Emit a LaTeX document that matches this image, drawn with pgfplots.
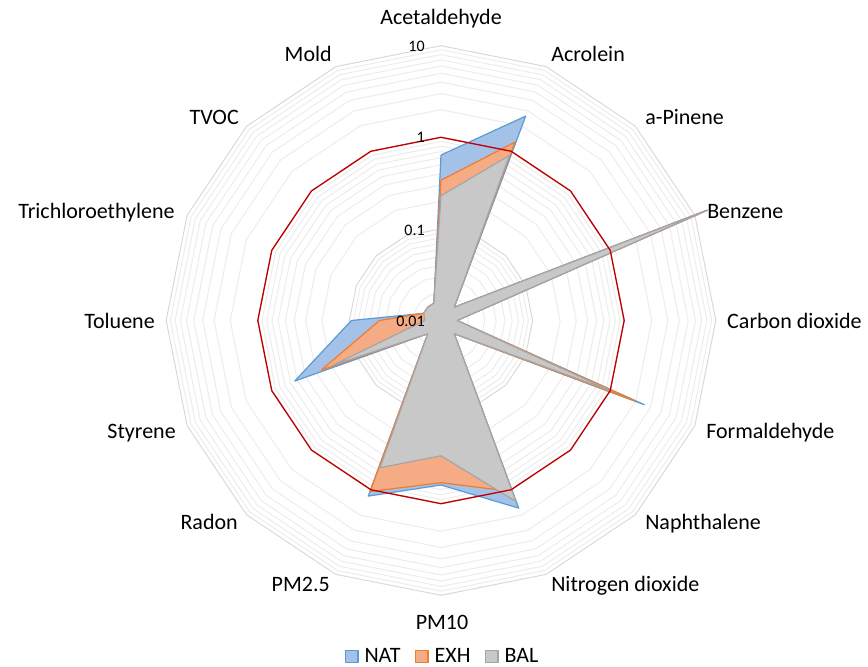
\documentclass[border=0pt]{standalone}
\usepackage{pgfplots}
\pgfplotsset{compat=1.18}
\usepackage{pgfplotstable}
\usepackage{fontspec}
\setmainfont{Carlito}

\definecolor{natline}{RGB}{91,155,213}
\definecolor{natfill}{RGB}{164,194,232}
\definecolor{exhline}{RGB}{237,125,49}
\definecolor{exhfill}{RGB}{245,172,132}
\definecolor{balline}{RGB}{165,165,165}
\definecolor{balfill}{RGB}{200,200,200}
\definecolor{limred}{RGB}{192,0,0}
\definecolor{majgrid}{RGB}{217,217,217}
\definecolor{mingrid}{RGB}{236,236,236}

% angle (deg), values for each series; last row closes the polygon
\pgfplotstableread{
ang    nat    exh    bal    lim
90     0.64   0.34   0.23   1
67.5   2.6    1.28   0.89   1
45     0.016  0.016  0.016  1
22.5   14     14     14     1
0      0.015  0.015  0.015  1
-22.5  2.53   2.0    1.0    1
-45    0.016  0.016  0.016  1
-67.5  1.65   1.05   1.38   1
-90    0.625  0.59   0.30   1
-112.5 1.19   1.05   0.55   1
-135   0.016  0.016  0.016  1
-157.5 0.535  0.26   0.19   1
-180   0.095  0.047  0.015  1
-202.5 0.016  0.016  0.016  1
-225   0.016  0.016  0.016  1
-247.5 0.016  0.016  0.016  1
-270   0.64   0.34   0.23   1
}\datatable

\newcommand{\lblfont}{\fontsize{16.5}{19}\selectfont}
\newcommand{\tickfont}{\fontsize{12}{14}\selectfont}

\begin{document}
\begin{tikzpicture}
\begin{axis}[
  hide axis,
  scale only axis,
  width=651pt, height=500.25pt,
  xmin=-4.8144, xmax=4.6616,
  ymin=-3.7828, ymax=3.4989,
  clip=false,
  legend columns=3,
  legend style={at={(0.5104,0.0155)}, anchor=center, draw=none, fill=none,
    font=\lblfont,
    /tikz/every odd column/.append style={column sep=2.5pt},
    /tikz/every even column/.append style={column sep=9pt},
    inner sep=0pt},
  legend image code/.code={\draw[#1, line width=0.9pt] (0pt,-4.6pt) rectangle (9.2pt,4.6pt);},
]
% minor rings
\pgfplotsinvokeforeach{0.02,0.03,0.04,0.05,0.06,0.07,0.08,0.09,0.2,0.3,0.4,0.5,0.6,0.7,0.8,0.9,2,3,4,5,6,7,8,9}{
  \addplot[mingrid, line width=0.75pt, forget plot] table[
    x expr={(ln(#1)/ln(10)+2)*cos(\thisrow{ang})},
    y expr={(ln(#1)/ln(10)+2)*sin(\thisrow{ang})}] {\datatable};
}
% major rings
\pgfplotsinvokeforeach{0.1,1,10}{
  \addplot[majgrid, line width=0.75pt, forget plot] table[
    x expr={(ln(#1)/ln(10)+2)*cos(\thisrow{ang})},
    y expr={(ln(#1)/ln(10)+2)*sin(\thisrow{ang})}] {\datatable};
}
% series
\addplot[draw=natline, fill=natfill, line width=0.9pt, line join=round] table[
    x expr={(ln(\thisrow{nat})/ln(10)+2)*cos(\thisrow{ang})},
    y expr={(ln(\thisrow{nat})/ln(10)+2)*sin(\thisrow{ang})}] {\datatable};
\addlegendentry{NAT}
\addplot[draw=exhline, fill=exhfill, line width=0.9pt, line join=round] table[
    x expr={(ln(\thisrow{exh})/ln(10)+2)*cos(\thisrow{ang})},
    y expr={(ln(\thisrow{exh})/ln(10)+2)*sin(\thisrow{ang})}] {\datatable};
\addlegendentry{EXH}
\addplot[draw=balline, fill=balfill, line width=0.9pt, line join=round] table[
    x expr={(ln(\thisrow{bal})/ln(10)+2)*cos(\thisrow{ang})},
    y expr={(ln(\thisrow{bal})/ln(10)+2)*sin(\thisrow{ang})}] {\datatable};
\addlegendentry{BAL}
% limit line at 1
\addplot[limred, line width=1pt, forget plot] table[
    x expr={(ln(\thisrow{lim})/ln(10)+2)*cos(\thisrow{ang})},
    y expr={(ln(\thisrow{lim})/ln(10)+2)*sin(\thisrow{ang})}] {\datatable};

% radial tick labels
\node[anchor=base east, inner sep=0pt, font=\tickfont] at (axis cs:-0.175,2.942) {10};
\node[anchor=base east, inner sep=0pt, font=\tickfont] at (axis cs:-0.175,1.938) {1};
\node[anchor=base east, inner sep=0pt, font=\tickfont] at (axis cs:-0.175,0.933) {0.1};
\node[anchor=base east, inner sep=0pt, font=\tickfont] at (axis cs:-0.175,-0.071) {0.01};

% category labels
\node[anchor=base, inner sep=0pt, font=\lblfont] at (axis cs:0,3.226) {Acetaldehyde};
\node[anchor=base west, inner sep=0pt, font=\lblfont] at (axis cs:1.201,2.822) {Acrolein};
\node[anchor=base west, inner sep=0pt, font=\lblfont] at (axis cs:2.227,2.135) {a-Pinene};
\node[anchor=base west, inner sep=0pt, font=\lblfont] at (axis cs:2.904,1.108) {Benzene};
\node[anchor=base west, inner sep=0pt, font=\lblfont] at (axis cs:3.122,-0.092) {Carbon dioxide};
\node[anchor=base west, inner sep=0pt, font=\lblfont] at (axis cs:2.893,-1.293) {Formaldehyde};
\node[anchor=base west, inner sep=0pt, font=\lblfont] at (axis cs:2.227,-2.287) {Naphthalene};
\node[anchor=base west, inner sep=0pt, font=\lblfont] at (axis cs:1.201,-2.964) {Nitrogen dioxide};
\node[anchor=base, inner sep=0pt, font=\lblfont] at (axis cs:0.011,-3.378) {PM10};
\node[anchor=base east, inner sep=0pt, font=\lblfont] at (axis cs:-1.212,-2.964) {PM2.5};
\node[anchor=base east, inner sep=0pt, font=\lblfont] at (axis cs:-2.216,-2.287) {Radon};
\node[anchor=base east, inner sep=0pt, font=\lblfont] at (axis cs:-2.893,-1.293) {Styrene};
\node[anchor=base east, inner sep=0pt, font=\lblfont] at (axis cs:-3.122,-0.092) {Toluene};
\node[anchor=base east, inner sep=0pt, font=\lblfont] at (axis cs:-2.904,1.108) {Trichloroethylene};
\node[anchor=base east, inner sep=0pt, font=\lblfont] at (axis cs:-2.205,2.135) {TVOC};
\node[anchor=base east, inner sep=0pt, font=\lblfont] at (axis cs:-1.19,2.822) {Mold};
\end{axis}
\pgfresetboundingbox
\path (current axis.south west) rectangle (current axis.north east);
\end{tikzpicture}
\end{document}
